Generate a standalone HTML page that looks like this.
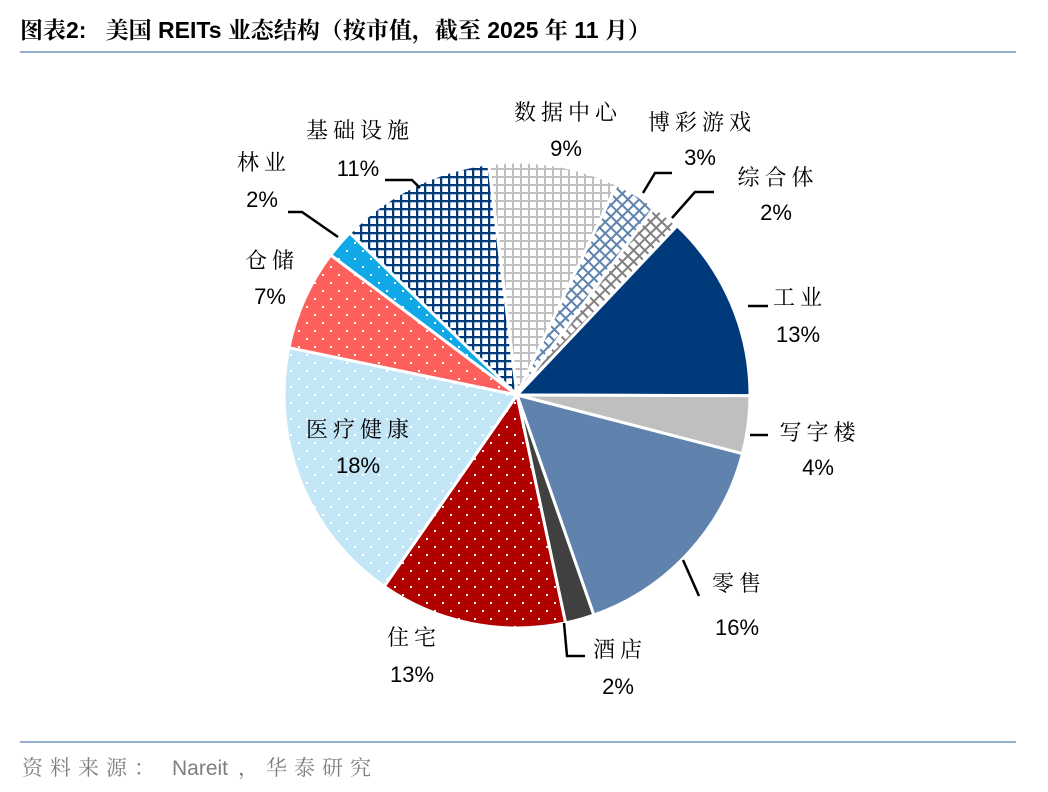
<!DOCTYPE html>
<html><head><meta charset="utf-8"><style>
body{margin:0;width:1048px;height:792px;background:#fff;overflow:hidden}
svg{display:block}
.t{font-family:"Noto Serif CJK SC","Liberation Serif",serif;font-size:22px;fill:#000;letter-spacing:5px}
.p{font-family:"Liberation Sans","Noto Sans CJK SC",sans-serif;font-size:22px;fill:#000}
</style></head><body>
<svg id="s" width="1048" height="792" xmlns="http://www.w3.org/2000/svg">
<defs>
<pattern id="gNavy" width="8" height="8" patternUnits="userSpaceOnUse"><rect width="8" height="8" fill="#fff"/><path d="M0 1H8M1 0V8" stroke="#003a7a" stroke-width="2.5"/></pattern>
<pattern id="gGray" width="8" height="8" patternUnits="userSpaceOnUse"><rect width="8" height="8" fill="#fff"/><path d="M0 1H8M1 0V8" stroke="#bfbfbf" stroke-width="2"/></pattern>
<pattern id="dBlue" width="8" height="8" patternUnits="userSpaceOnUse" patternTransform="rotate(45)"><rect width="8" height="8" fill="#fff"/><path d="M0 1H8M1 0V8" stroke="#5f83ad" stroke-width="2"/></pattern>
<pattern id="dGray" width="8" height="8" patternUnits="userSpaceOnUse" patternTransform="rotate(45)"><rect width="8" height="8" fill="#fff"/><path d="M0 1H8M1 0V8" stroke="#808080" stroke-width="2"/></pattern>
<pattern id="pRed" width="16" height="16" patternUnits="userSpaceOnUse"><rect width="16" height="16" fill="#b00000"/><rect x="2" y="2" width="2" height="2" fill="#fff"/><rect x="10" y="10" width="2" height="2" fill="#fff"/></pattern>
<pattern id="pLB" width="16" height="16" patternUnits="userSpaceOnUse"><rect width="16" height="16" fill="#c3e6f7"/><rect x="2" y="2" width="2" height="2" fill="#fff"/><rect x="10" y="10" width="2" height="2" fill="#fff"/></pattern>
<pattern id="pSal" width="16" height="16" patternUnits="userSpaceOnUse"><rect width="16" height="16" fill="#fd5f5c"/><rect x="2" y="2" width="2" height="2" fill="#fff"/><rect x="10" y="10" width="2" height="2" fill="#fff"/></pattern>
<pattern id="pCy" width="16" height="16" patternUnits="userSpaceOnUse"><rect width="16" height="16" fill="#10a8e6"/><rect x="2" y="2" width="2" height="2" fill="#fff"/><rect x="10" y="10" width="2" height="2" fill="#fff"/></pattern>
</defs>
<text x="20" y="38" style="font-family:'Liberation Sans','Noto Serif CJK SC',serif;font-size:23px;font-weight:bold">图表2:&#160;&#160;&#160;美国 REITs 业态结构（按市值，截至 2025 年 11 月）</text>
<rect x="20" y="51" width="996" height="2" fill="#98b0d0"/>
<rect x="20" y="741" width="996" height="2" fill="#98b0d0"/>
<text y="775" style="font-family:'Liberation Sans','Noto Serif CJK SC',serif;font-size:21px;fill:#7f7f7f"><tspan x="22" style="letter-spacing:7px">资料来源：</tspan><tspan x="172">Nareit</tspan><tspan x="238" style="letter-spacing:7px">，华泰研究</tspan></text>
<g id="pie"></g>
<g stroke="#000" stroke-width="2.5" fill="none">
<polyline points="385,180 412,180 420,188"/>
<polyline points="288,212 302,212 338,237"/>
<polyline points="643,193 655,173 672,173"/>
<polyline points="672,218 695,192 714,192"/>
<polyline points="748,306 768,306"/>
<polyline points="750,435 768,435"/>
<polyline points="683,560 699,596"/>
<polyline points="564,623 567,656 585,656"/>
</g>
<text class="t" x="568" y="120" text-anchor="middle">数据中心</text><text class="p" x="566" y="156" text-anchor="middle">9%</text>
<text class="t" x="702" y="130" text-anchor="middle">博彩游戏</text><text class="p" x="700" y="165" text-anchor="middle">3%</text>
<text class="t" x="778" y="185" text-anchor="middle">综合体</text><text class="p" x="776" y="220" text-anchor="middle">2%</text>
<text class="t" x="800" y="305" text-anchor="middle">工业</text><text class="p" x="798" y="342" text-anchor="middle">13%</text>
<text class="t" x="820" y="440" text-anchor="middle">写字楼</text><text class="p" x="818" y="475" text-anchor="middle">4%</text>
<text class="t" x="739" y="591" text-anchor="middle">零售</text><text class="p" x="737" y="635" text-anchor="middle">16%</text>
<text class="t" x="620" y="657" text-anchor="middle">酒店</text><text class="p" x="618" y="694" text-anchor="middle">2%</text>
<text class="t" x="414" y="645" text-anchor="middle">住宅</text><text class="p" x="412" y="682" text-anchor="middle">13%</text>
<text class="t" x="360" y="437" text-anchor="middle">医疗健康</text><text class="p" x="358" y="473" text-anchor="middle">18%</text>
<text class="t" x="272" y="268" text-anchor="middle">仓储</text><text class="p" x="270" y="304" text-anchor="middle">7%</text>
<text class="t" x="264" y="170" text-anchor="middle">林业</text><text class="p" x="262" y="207" text-anchor="middle">2%</text>
<text class="t" x="360" y="138" text-anchor="middle">基础设施</text><text class="p" x="358" y="176" text-anchor="middle">11%</text>
</svg>
<script>
var cx=517,cy=395,r=233;
var d=[[9,"url(#gGray)"],[3,"url(#dBlue)"],[2,"url(#dGray)"],[13,"#003a7a"],[4,"#bfbfbf"],[15.6,"#5f83ad"],[2,"#404040"],[13,"url(#pRed)"],[18.6,"url(#pLB)"],[7,"url(#pSal)"],[2,"url(#pCy)"],[10.8,"url(#gNavy)"]];
var a=-7*Math.PI/180,h="";
d.forEach(function(s){var b=a+s[0]/100*2*Math.PI;
var x1=cx+r*Math.sin(a),y1=cy-r*Math.cos(a),x2=cx+r*Math.sin(b),y2=cy-r*Math.cos(b);
h+='<path d="M'+cx+' '+cy+'L'+x1.toFixed(1)+' '+y1.toFixed(1)+'A'+r+' '+r+' 0 '+(s[0]>50?1:0)+' 1 '+x2.toFixed(1)+' '+y2.toFixed(1)+'Z" fill="'+s[1]+'" stroke="#fff" stroke-width="3" stroke-linejoin="round"/>';a=b;});
document.getElementById("pie").innerHTML=h;
</script>
</body></html>
